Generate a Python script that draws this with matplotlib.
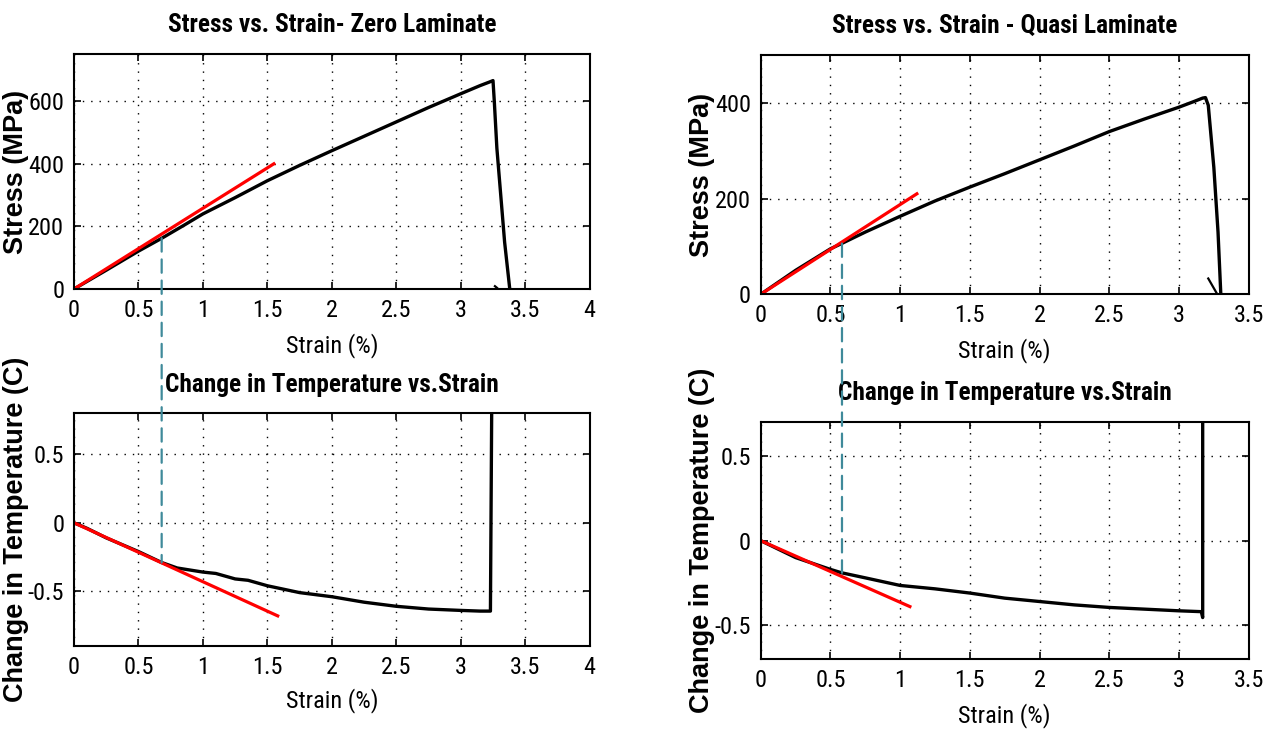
import matplotlib
matplotlib.use("Agg")
import matplotlib.pyplot as plt
from matplotlib.patches import ConnectionPatch
from matplotlib import font_manager as fm

# ---------------- data ----------------
# Zero laminate: stress vs strain
zero_strain = [0, 0.25, 0.5, 0.68, 0.85, 1.0, 1.25, 1.5, 1.75, 2.0, 2.25, 2.5, 2.75,
               3.0, 3.15, 3.22, 3.25, 3.26, 3.28, 3.31, 3.34, 3.38]
zero_stress = [0, 60, 121, 162, 203, 240, 292, 346, 395, 442, 488, 534, 580,
               624, 650, 661, 666, 600, 450, 300, 150, 0]
zero_hook_strain = [3.265, 3.28, 3.29]
zero_hook_stress = [9, 4, 0]
zero_fit_strain = [0, 1.55]
zero_fit_stress = [0, 400]

# Zero laminate: temperature change vs strain
zero_t_strain = [0, 0.1, 0.25, 0.5, 0.68, 0.8, 1.0, 1.1, 1.25, 1.35, 1.5, 1.75, 2.0,
                 2.25, 2.5, 2.75, 3.0, 3.15, 3.23, 3.235, 3.24]
zero_temp = [0, -0.04, -0.11, -0.21, -0.29, -0.33, -0.36, -0.37, -0.41, -0.42, -0.46,
             -0.51, -0.54, -0.58, -0.61, -0.63, -0.64, -0.645, -0.645, 0.1, 0.85]
zero_t_fit_strain = [0, 1.58]
zero_t_fit_temp = [0, -0.68]

# Quasi laminate: stress vs strain
quasi_strain = [0, 0.25, 0.5, 0.58, 0.75, 1.0, 1.25, 1.5, 1.75, 2.0, 2.25, 2.5, 2.75,
                3.0, 3.1, 3.17, 3.19, 3.21, 3.23, 3.25, 3.28, 3.30]
quasi_stress = [0, 50, 95, 106, 130, 163, 195, 224, 252, 281, 310, 340, 366,
                391, 402, 410, 411, 395, 330, 265, 130, 0]
quasi_hook_strain = [3.21, 3.275]
quasi_hook_stress = [33, 0]
quasi_fit_strain = [0, 1.12]
quasi_fit_stress = [0, 210]

# Quasi laminate: temperature change vs strain
quasi_t_strain = [0, 0.1, 0.25, 0.5, 0.58, 0.75, 1.0, 1.25, 1.5, 1.75, 2.0, 2.25, 2.5,
                  2.75, 3.0, 3.16, 3.17, 3.17]
quasi_temp = [0, -0.04, -0.1, -0.17, -0.19, -0.22, -0.265, -0.285, -0.31, -0.34, -0.36,
              -0.38, -0.395, -0.405, -0.415, -0.42, -0.455, 0.75]
quasi_t_fit_strain = [0, 1.07]
quasi_t_fit_temp = [0, -0.39]

# linear-limit points (strain, stress, temperature change) for the dashed connectors
zero_limit = (0.68, 162, -0.29)
quasi_limit = (0.583, 106, -0.19)

zero_xticks = [0, 0.5, 1, 1.5, 2, 2.5, 3, 3.5, 4]
zero_xlabels = ["0", "0.5", "1", "1.5", "2", "2.5", "3", "3.5", "4"]
quasi_xticks = [0, 0.5, 1, 1.5, 2, 2.5, 3, 3.5]
quasi_xlabels = ["0", "0.5", "1", "1.5", "2", "2.5", "3", "3.5"]
zero_yticks = [0, 200, 400, 600]
quasi_yticks = [0, 200, 400]
temp_yticks = [-0.5, 0, 0.5]
temp_ylabels = ["-0.5", "0", "0.5"]

titles = ["Stress vs. Strain- Zero Laminate", "Stress vs. Strain - Quasi Laminate",
          "Change in Temperature vs.Strain", "Change in Temperature vs.Strain"]

# ---------------- fonts ----------------
names = {f.name for f in fm.fontManager.ttflist}
condensed = [n for n in ("Roboto Condensed", "DejaVu Sans Condensed", "Liberation Sans Narrow")
             if n in names]
if condensed:
    NARROW = [condensed[0], "DejaVu Sans"]
    nscale = 1.0
else:
    NARROW = ["Liberation Sans", "DejaVu Sans"]
    nscale = 0.82
WIDE = ["Liberation Sans", "DejaVu Sans"]

# ---------------- figure ----------------
W, H = 1272, 729
fig = plt.figure(figsize=(W / 100, H / 100), dpi=100)
fig.patch.set_facecolor("white")


def add_ax(l, r, t, b):
    return fig.add_axes([l / W, 1 - b / H, (r - l) / W, (b - t) / H])


ax1 = add_ax(74, 589.7, 54.3, 289)
ax2 = add_ax(760.7, 1248.7, 55, 294.3)
ax3 = add_ax(74, 589.7, 413.3, 646)
ax4 = add_ax(760.7, 1248.7, 422.3, 659)

BLACK_LW = 2.4
RED_LW = 2.3
RED = "#ff0000"
TEAL = "#3f8a9a"


def style(ax, xlim, ylim, xticks, xlabels, yticks, ylabels, title, ylabel, pad, xlpad):
    ax.set_xlim(*xlim)
    ax.set_ylim(*ylim)
    ax.set_xticks(xticks)
    ax.set_xticklabels(xlabels)
    ax.set_yticks(yticks)
    ax.set_yticklabels(ylabels)
    ax.grid(True, color="black", linestyle=(0, (1, 5)), linewidth=1.0)
    ax.tick_params(direction="in", length=5, width=1.2, top=True, right=True,
                   pad=7, labelsize=17.5 * nscale)
    for lab in ax.get_xticklabels() + ax.get_yticklabels():
        lab.set_family(NARROW)
    for sp in ax.spines.values():
        sp.set_linewidth(1.5)
    ax.set_title(title, family=NARROW, fontweight="bold", fontsize=18.3 * nscale, pad=pad)
    ax.set_xlabel("Strain (%)", family=NARROW, fontsize=17.5 * nscale, labelpad=xlpad)
    ax.set_ylabel(ylabel, family=WIDE, fontweight="bold", fontsize=19.5, labelpad=4)


# top-left
ax1.plot(zero_strain, zero_stress, color="black", lw=BLACK_LW)
ax1.plot(zero_hook_strain, zero_hook_stress, color="black", lw=1.6)
ax1.plot(zero_fit_strain, zero_fit_stress, color=RED, lw=RED_LW)
style(ax1, (0, 4), (0, 750), zero_xticks, zero_xlabels, zero_yticks,
      [str(v) for v in zero_yticks], titles[0], "Stress (MPa)", 16, 8)

# top-right
ax2.plot(quasi_strain, quasi_stress, color="black", lw=BLACK_LW)
ax2.plot(quasi_hook_strain, quasi_hook_stress, color="black", lw=1.6)
ax2.plot(quasi_fit_strain, quasi_fit_stress, color=RED, lw=RED_LW)
style(ax2, (0, 3.5), (0, 500), quasi_xticks, quasi_xlabels, quasi_yticks,
      [str(v) for v in quasi_yticks], titles[1], "Stress (MPa)", 16, 8)

# bottom-left
ax3.plot(zero_t_strain, zero_temp, color="black", lw=BLACK_LW)
ax3.plot(zero_t_fit_strain, zero_t_fit_temp, color=RED, lw=RED_LW)
style(ax3, (0, 4), (-0.9, 0.8), zero_xticks, zero_xlabels, temp_yticks,
      temp_ylabels, titles[2], "Change in Temperature (C)", 15, 7)

# bottom-right
ax4.plot(quasi_t_strain, quasi_temp, color="black", lw=BLACK_LW)
ax4.plot(quasi_t_fit_strain, quasi_t_fit_temp, color=RED, lw=RED_LW)
style(ax4, (0, 3.5), (-0.7, 0.7), quasi_xticks, quasi_xlabels, temp_yticks,
      temp_ylabels, titles[3], "Change in Temperature (C)", 16, 8)

# y-label positions: anchor x of each rotated label, in figure pixels
ax1.yaxis.set_label_coords((29 - 74) / (589.7 - 74), 0.5)
ax3.yaxis.set_label_coords((29 - 74) / (589.7 - 74), 0.5)
ax2.yaxis.set_label_coords((715 - 760.7) / (1248.7 - 760.7), 0.5)
ax4.yaxis.set_label_coords((715 - 760.7) / (1248.7 - 760.7), 0.5)

# dashed connectors between stress and temperature plots
for top, bot, lim in ((ax1, ax3, zero_limit), (ax2, ax4, quasi_limit)):
    con = ConnectionPatch(xyA=(lim[0], lim[1]), coordsA=top.transData,
                          xyB=(lim[0], lim[2]), coordsB=bot.transData,
                          color=TEAL, lw=1.6, linestyle=(0, (6, 3.5)))
    fig.add_artist(con)

fig.savefig("out.png", dpi=100, facecolor="white")
